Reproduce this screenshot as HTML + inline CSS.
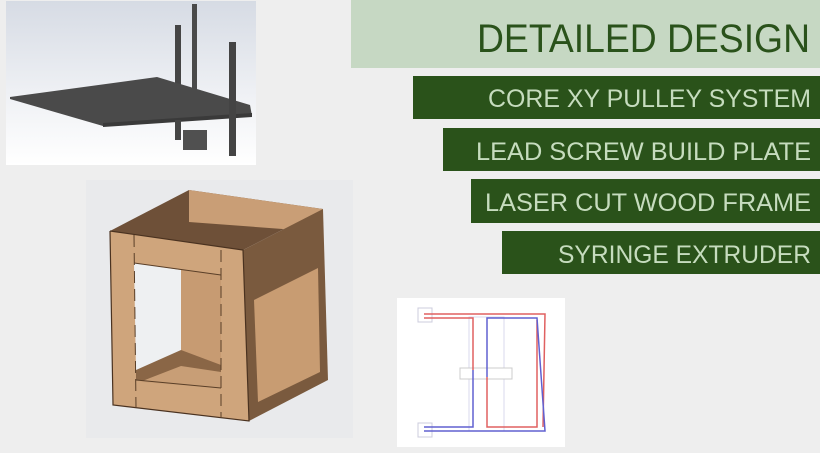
<!DOCTYPE html>
<html><head><meta charset="utf-8"><style>
html,body{margin:0;padding:0;background:#eeeeee;}
svg{display:block;}
text{font-family:"Liberation Sans",sans-serif;}
</style></head><body>
<svg width="820" height="453" viewBox="0 0 820 453" xmlns="http://www.w3.org/2000/svg">
<defs>
<linearGradient id="sky" x1="0" y1="0" x2="0" y2="1">
<stop offset="0" stop-color="#d6dbe4"/><stop offset="0.55" stop-color="#eef0f4"/><stop offset="1" stop-color="#ffffff"/>
</linearGradient>
</defs>
<rect width="820" height="453" fill="#eeeeee"/>
<!-- top render -->
<rect x="6" y="1" width="250" height="164" fill="url(#sky)"/>
<rect x="175" y="25" width="6" height="115" fill="#454545"/>
<rect x="192" y="4" width="5" height="90" fill="#4a4a4a"/>
<polygon points="10,97 157,77 250,105 252,116 103,126 10,99" fill="#4a4a4a"/>
<polygon points="103,123 252,113 252,117 103,127" fill="#3a3a3a"/>
<rect x="175" y="120" width="6" height="19" fill="#454545"/>
<rect x="183" y="130" width="24" height="20" fill="#505050"/>
<rect x="229" y="42" width="7" height="114" fill="#444"/>
<!-- frame render -->
<rect x="86" y="180" width="267" height="258" fill="#e9eaec"/>
<polygon points="110,231 189,190 323,209 243,250" fill="#6e5038"/>
<polygon points="189,190 323,209 323,232 189,222" fill="#c99e76"/>
<polygon points="243,250 323,209 328,380 249,421" fill="#7a5a3e"/>
<polygon points="254,300 318,268 320,372 258,402" fill="#c89c72"/>
<polygon points="110,231 243,250 249,421 113,405" fill="#cfa57c"/>
<polygon points="134,263 181,270 181,372 136,370" fill="#eef0f2"/>
<polygon points="181,270 221,275 221,373 181,372" fill="#c79b72"/>
<polygon points="136,370 181,350 221,365 221,387 136,380" fill="#8a6646"/>
<polygon points="150,378 181,366 221,372 221,388 140,382" fill="#c89e76"/>
<polyline points="110,231 243,250 249,421 113,405 110,231" fill="none" stroke="#4a3220" stroke-width="1.2"/>
<line x1="134" y1="263" x2="221" y2="275" stroke="#5a3f28" stroke-width="1"/>
<line x1="136" y1="380" x2="221" y2="388" stroke="#5a3f28" stroke-width="1"/>
<line x1="221" y1="250" x2="221" y2="418" stroke="#5a3f28" stroke-width="1" stroke-dasharray="12,6"/>
<line x1="134" y1="235" x2="136" y2="408" stroke="#5a3f28" stroke-width="1" stroke-dasharray="12,6"/>
<!-- title band -->
<rect x="351" y="0" width="469" height="68" fill="#c6d8c3"/>
<text x="810" y="52" text-anchor="end" font-size="40" fill="#2a521b" textLength="333" lengthAdjust="spacingAndGlyphs">DETAILED DESIGN</text>
<rect x="413" y="76" width="407" height="43" fill="#2a521a"/>
<text x="811" y="107" text-anchor="end" font-size="25" fill="#c6dcbe" textLength="323" lengthAdjust="spacingAndGlyphs">CORE XY PULLEY SYSTEM</text>
<rect x="443" y="128" width="377" height="43" fill="#2a521a"/>
<text x="811" y="160" text-anchor="end" font-size="25" fill="#c6dcbe" textLength="335" lengthAdjust="spacingAndGlyphs">LEAD SCREW BUILD PLATE</text>
<rect x="471" y="179" width="349" height="44" fill="#2a521a"/>
<text x="811" y="211" text-anchor="end" font-size="25" fill="#c6dcbe" textLength="326" lengthAdjust="spacingAndGlyphs">LASER CUT WOOD FRAME</text>
<rect x="502" y="231" width="318" height="43" fill="#2a521a"/>
<text x="811" y="263" text-anchor="end" font-size="25" fill="#c6dcbe" textLength="253" lengthAdjust="spacingAndGlyphs">SYRINGE EXTRUDER</text>
<!-- pulley diagram -->
<rect x="397" y="298" width="168" height="149" fill="#ffffff"/>
<rect x="418" y="308" width="14" height="14" fill="none" stroke="#ccccdd" stroke-width="1"/>
<rect x="418" y="423" width="14" height="14" fill="none" stroke="#ccccdd" stroke-width="1"/>
<rect x="469" y="317" width="35" height="114" fill="none" stroke="#d8d8ee" stroke-width="1"/>
<rect x="460" y="368" width="52" height="11" fill="#fff" stroke="#cccccc" stroke-width="1"/>
<polyline points="424,314 545,314 543,427" fill="none" stroke="#e06060" stroke-width="1.5"/>
<polyline points="424,318 473,318 473,370" fill="none" stroke="#e06060" stroke-width="1.5"/>
<polyline points="487,377 487,427 537,427 537,320" fill="none" stroke="#e06060" stroke-width="1.5"/>
<polyline points="473,370 473,427 424,427" fill="none" stroke="#6060d0" stroke-width="1.5"/>
<polyline points="487,377 487,318 537,318 545,431 424,431" fill="none" stroke="#6060d0" stroke-width="1.5"/>
</svg>
</body></html>
